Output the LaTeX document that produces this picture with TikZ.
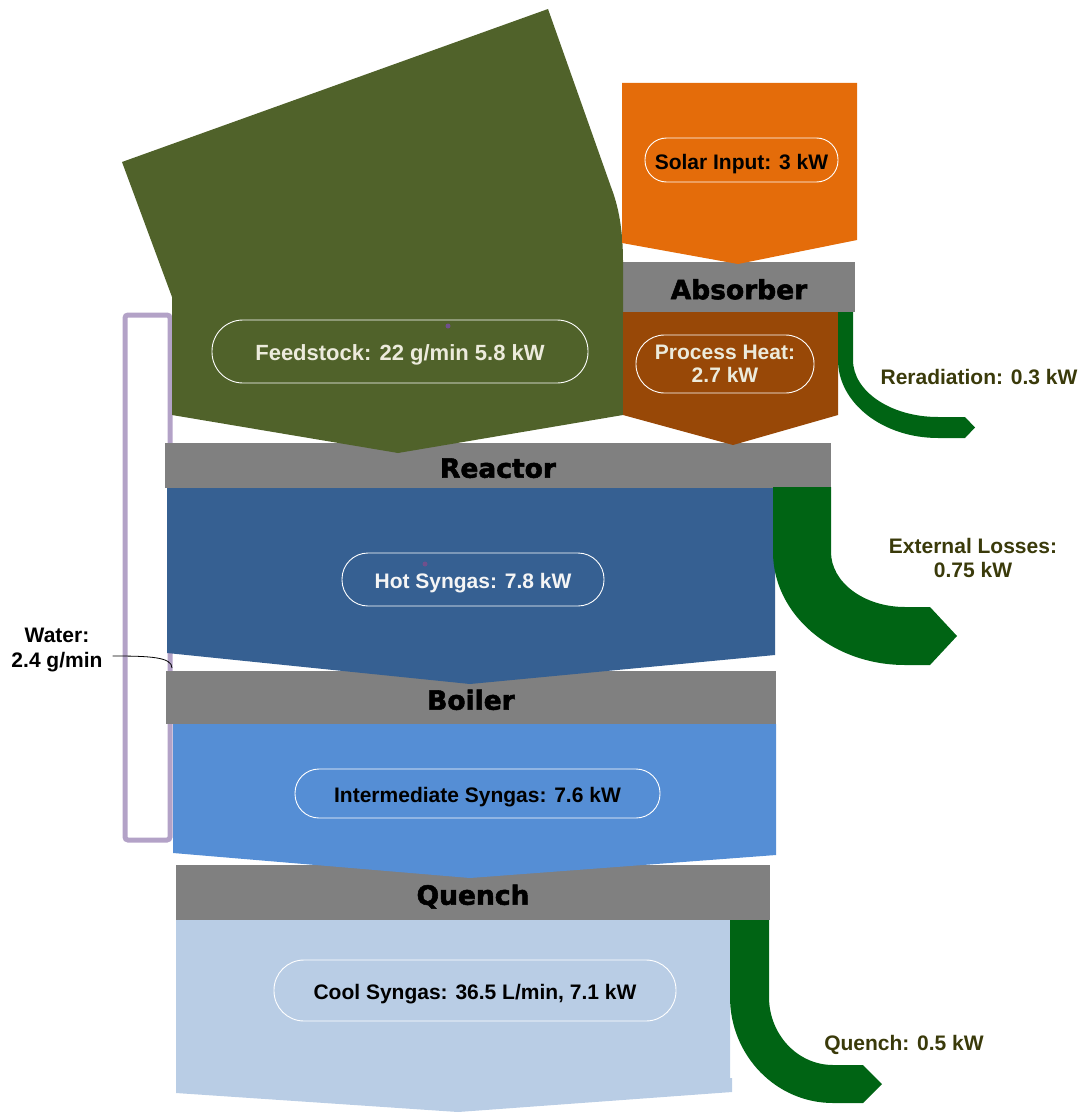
\documentclass[tikz,border=0pt]{standalone}
\usepackage{fontspec}
\setmainfont{Liberation Sans}
\newfontfamily\barfont[BoldFeatures={FakeBold=2}]{DejaVu Sans}
\usepackage{tikz}

\definecolor{feedgreen}{RGB}{80,98,42}
\definecolor{solarorange}{RGB}{228,108,10}
\definecolor{heatbrown}{RGB}{152,72,7}
\definecolor{hotblue}{RGB}{54,96,146}
\definecolor{midblue}{RGB}{85,142,213}
\definecolor{coolblue}{RGB}{185,205,229}
\definecolor{lossgreen}{RGB}{0,100,20}
\definecolor{waterlilac}{RGB}{179,162,199}
\definecolor{losstext}{RGB}{58,58,10}
\definecolor{cream}{RGB}{236,235,220}
\definecolor{dotpurple}{RGB}{112,80,140}

\begin{document}
\begin{tikzpicture}[x=1pt,y=-1pt,
        bar/.style={fill=gray,inner sep=0pt,text height=24.4pt,text depth=0pt,font=\barfont\bfseries\fontsize{26.5}{30}\selectfont},
        flowlabel/.style={draw=white,line width=0.9pt,inner sep=0pt,align=center,font=\bfseries\fontsize{21}{23}\selectfont},
        oneline/.style={text height=18pt,text depth=0pt},
        losslabel/.style={text=losstext,align=center,inner sep=0pt,font=\bfseries\fontsize{21}{24}\selectfont}]
        \useasboundingbox (0,0) rectangle (1082,1113);
        \draw[waterlilac,line width=5pt,rounded corners=3pt] (125,315) rectangle (170,840);
        \node[bar,minimum width=232pt,minimum height=50pt] (absorber) at (739,287) {Absorber};
        \node[bar,minimum width=666pt,minimum height=45pt] (reactor) at (498,465.5) {Reactor};
        \node[bar,minimum width=610pt,minimum height=53pt] (boiler) at (471,697.5) {Boiler};
        \node[bar,minimum width=594pt,minimum height=55pt] (quench) at (473,892.5) {Quench};
        \fill[feedgreen] (548,9) -- (122,162) -- (172,297) -- (172,415) -- (398,453) -- (623,415) -- (623,262) .. controls (623,228) and (618,205) .. (611,187) -- cycle;
        \fill[solarorange] (622,83) -- (857,83) -- (857,240) -- (738,264) -- (622,243) -- cycle;
        \fill[heatbrown] (623,312) -- (838,312) -- (838,415) -- (733,445) -- (623,415) -- cycle;
        \fill[hotblue] (167,488) -- (775,488) -- (775,655) -- (470,684) -- (167,653) -- cycle;
        \fill[midblue] (173,724) -- (776,724) -- (776,855) -- (470,878) -- (173,853) -- cycle;
        \fill[coolblue] (176,920) -- (730,920) -- (730,1078) -- (732,1078) -- (732,1092) -- (458,1112) -- (176,1093) -- cycle;
        \fill[lossgreen] (838,312) -- (853,312) -- (853,360) .. controls (853,391.5) and (891,417) .. (938,417) -- (965,417) -- (975,427.5) -- (965,438) -- (938,438) .. controls (882.8,438) and (838,403) .. (838,360) -- cycle;
        \fill[lossgreen] (773,487) -- (831,487) -- (831,552) .. controls (831,582.4) and (864.1,607) .. (905,607) -- (930,607) -- (957,636) -- (930,665) -- (905,665) .. controls (832.1,665) and (773,614.4) .. (773,552) -- cycle;
        \fill[lossgreen] (730,920) -- (769,920) -- (769,997) .. controls (769,1034.6) and (797.7,1065) .. (833,1065) -- (863,1065) -- (882,1084) -- (863,1103) -- (833,1103) .. controls (776.1,1103) and (730,1055.5) .. (730,997) -- cycle;
        \node[flowlabel,oneline,text=black,minimum width=193pt,minimum height=44pt,rounded corners=21.5pt] (solar) at (741.5,160) {Solar Input: 3 kW};
        \node[flowlabel,oneline,text=cream,minimum width=376pt,minimum height=63pt,rounded corners=31pt,font=\bfseries\fontsize{22}{24}\selectfont] (feed) at (400,351.5) {Feedstock: 22 g/min 5.8 kW};
        \node[flowlabel,text=cream,minimum width=178pt,minimum height=58pt,rounded corners=28.5pt] (heat) at (725,364) {Process Heat:\\2.7 kW};
        \node[flowlabel,oneline,text=white!92!gray,minimum width=262pt,minimum height=53pt,rounded corners=26pt] (hot) at (473,579.5) {Hot Syngas: 7.8 kW};
        \node[flowlabel,oneline,text=black,minimum width=365pt,minimum height=49pt,rounded corners=24pt] (mid) at (477.5,793.5) {Intermediate Syngas: 7.6 kW};
        \node[flowlabel,oneline,text=black,minimum width=402pt,minimum height=61pt,rounded corners=30pt] (cool) at (475,990.5) {Cool Syngas: 36.5 L/min, 7.1 kW};
        \fill[dotpurple] (448,326) circle[radius=2.5pt];
        \fill[dotpurple] (425,564) circle[radius=2.5pt];
        \node[losslabel] (rerad) at (979,377) {Reradiation: 0.3 kW};
        \node[losslabel] (extloss) at (973,558) {External Losses:\\0.75 kW};
        \node[losslabel] (quenchloss) at (904,1045) {Quench: 0.5 kW};
        \node[losslabel,text=black,font=\bfseries\fontsize{21}{25}\selectfont] (water) at (57,650) {Water:\\2.4 g/min};
        \coordinate (wtip) at (172,668);
        \draw[line width=0.8pt] ([shift={(10,6)}]water.east) .. controls (150,656) and (172,657) .. (wtip);
    \end{tikzpicture}
\end{document}
